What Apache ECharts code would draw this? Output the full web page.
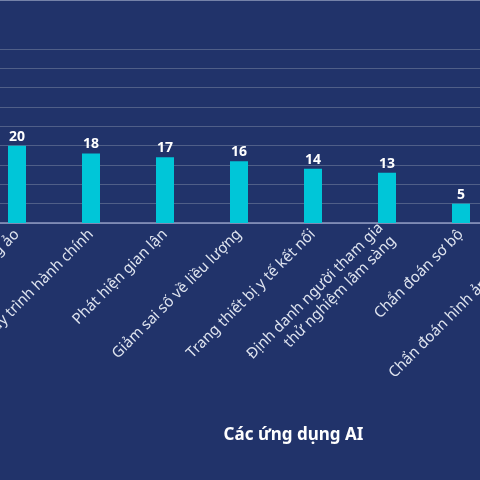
<!DOCTYPE html>
<html>
<head>
<meta charset="utf-8">
<script src="https://cdn.jsdelivr.net/npm/echarts@6/dist/echarts.min.js"></script>
<style>
  html, body { margin: 0; padding: 0; background: #21336a; overflow: hidden; }
  #wrap { position: relative; width: 480px; height: 480px; overflow: hidden; }
  #chart { position: absolute; left: -200px; top: 0; width: 900px; height: 480px; }
</style>
</head>
<body>
<div id="wrap"><div id="chart"></div></div>
<script>
// các ứng dụng AI trong y tế (tỷ USD)
const categories = [
  'Phẫu thuật có robot hỗ trợ',
  'Trợ lý điều dưỡng ảo',
  'Hỗ trợ quy trình hành chính',
  'Phát hiện gian lận',
  'Giảm sai số về liều lượng',
  'Trang thiết bị y tế kết nối',
  'Định danh người tham gia\nthử nghiệm lâm sàng',
  'Chẩn đoán sơ bộ',
  'Chẩn đoán hình ảnh tự động',
  'An ninh mạng'
];
const values = [40, 20, 18, 17, 16, 14, 13, 5, 3, 2];
const axisName = 'Các ứng dụng AI';

const chart = echarts.init(document.getElementById('chart'));

const option = {
  backgroundColor: '#21336a',
  textStyle: { fontFamily: 'Noto Sans' },
  grid: { left: 106, width: 740, top: 49, bottom: 257 },
  graphic: [
    {
      type: 'line',
      shape: { x1: 0, y1: 0.5, x2: 900, y2: 0.5 },
      style: { stroke: '#7582a8', lineWidth: 1 }
    }
  ],
  xAxis: {
    type: 'category',
    data: categories,
    name: axisName,
    nameLocation: 'middle',
    nameGap: 204,
    nameTextStyle: {
      color: '#ffffff',
      fontSize: 17,
      fontWeight: 'bold',
      padding: [0, 0, 0, 35]
    },
    axisLine: { lineStyle: { color: '#8e9bc2', width: 1.5 } },
    axisTick: { show: false },
    axisLabel: {
      rotate: 45,
      color: '#dfe4ef',
      fontSize: 15,
      margin: 9,
      lineHeight: 18,
      interval: 0
    }
  },
  yAxis: {
    type: 'value',
    min: 0,
    max: 45,
    interval: 5,
    axisLabel: { show: false },
    axisLine: { show: false },
    axisTick: { show: false },
    splitLine: { lineStyle: { color: '#505f88', width: 1 } }
  },
  series: [
    {
      type: 'bar',
      data: values,
      barWidth: 18,
      itemStyle: { color: '#00c6d8' },
      label: {
        show: true,
        position: 'top',
        distance: 2,
        color: '#ffffff',
        fontSize: 14,
        fontWeight: 'bold'
      }
    }
  ]
};

chart.setOption(option);
</script>
</body>
</html>
